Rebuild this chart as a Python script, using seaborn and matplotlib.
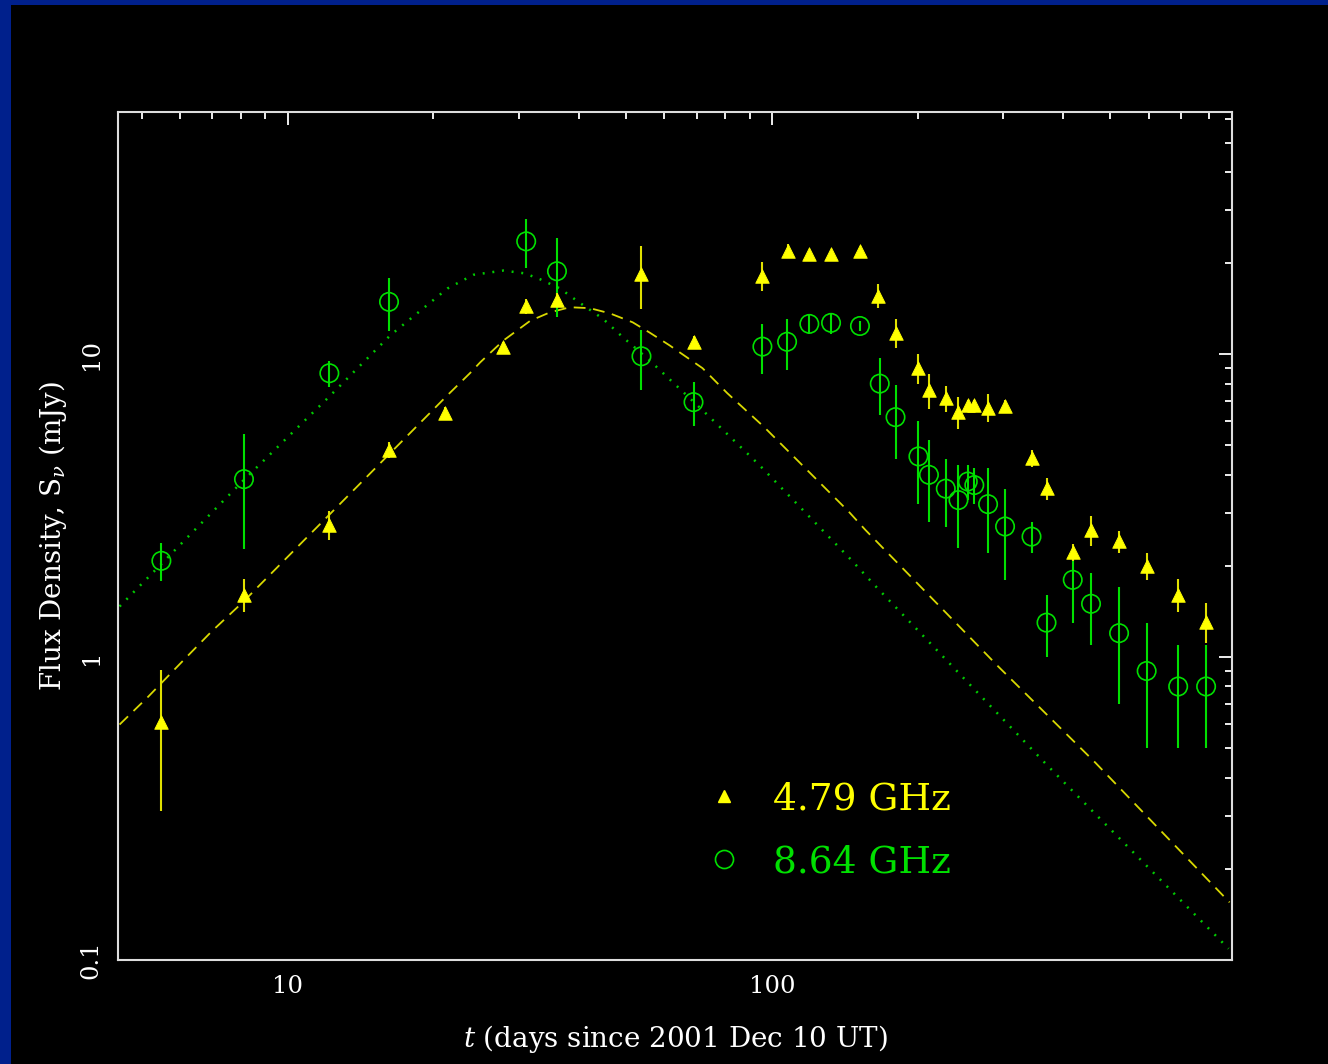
import matplotlib
matplotlib.use("Agg")
import matplotlib.pyplot as plt
import seaborn as sns
from matplotlib.patches import Rectangle
from matplotlib.lines import Line2D
from matplotlib.ticker import FixedLocator, FixedFormatter, LogLocator, NullFormatter

# 4.79 GHz flux densities (days since 2001 Dec 10 UT, mJy, 1-sigma)
t_479 = [5.49, 8.13, 12.2, 16.2, 21.1, 27.9, 31.1, 36.0, 53.8, 68.9,
         95.5, 108, 119.5, 132.5, 152, 166, 180, 200.7, 211, 228.6,
         242.8, 253.8, 261.8, 279.5, 303, 343.6, 369, 418, 456, 521,
         594, 690, 788]
s_479 = [0.61, 1.61, 2.73, 4.83, 6.40, 10.6, 14.4, 15.1, 18.4, 11.0,
         18.2, 22.0, 21.4, 21.5, 22.0, 15.6, 11.8, 9.0, 7.6, 7.16,
         6.45, 6.79, 6.79, 6.67, 6.74, 4.53, 3.61, 2.22, 2.62, 2.41,
         2.00, 1.61, 1.31]
e_479 = [0.30, 0.20, 0.30, 0.30, 0.30, 0.40, 0.80, 0.80, 4.3, 0.50,
         2.0, 1.2, 0.5, 0.5, 0.5, 1.4, 1.3, 1.0, 1.0, 0.7,
         0.8, 0.3, 0.3, 0.7, 0.3, 0.3, 0.3, 0.15, 0.3, 0.2,
         0.2, 0.2, 0.2]

# 8.64 GHz flux densities
t_864 = [5.49, 8.13, 12.2, 16.2, 31.1, 36.0, 53.8, 68.9, 95.6, 107.5,
         119.5, 132.5, 152, 167, 180, 200.7, 211, 228.6, 242.8, 253.8,
         261.8, 279.5, 303, 343.6, 369, 418, 456, 521, 594, 690, 788]
s_864 = [2.08, 3.87, 8.66, 14.9, 23.6, 18.8, 9.85, 6.95, 10.6, 11.0,
         12.6, 12.7, 12.4, 8.0, 6.2, 4.6, 4.0, 3.6, 3.3, 3.8,
         3.7, 3.2, 2.7, 2.5, 1.3, 1.8, 1.5, 1.2, 0.9, 0.8, 0.8]
e_864 = [0.30, 1.6, 0.85, 3.0, 4.3, 5.5, 2.2, 1.15, 2.0, 2.1,
         0.9, 1.0, 0.5, 1.7, 1.7, 1.4, 1.2, 0.9, 1.0, 0.5,
         0.5, 1.0, 0.9, 0.3, 0.3, 0.5, 0.4, 0.5, 0.4, 0.3, 0.3]

# Model light curves
model_t_479 = [4.50, 5.16, 6.03, 6.95, 8.09, 21.4, 23.8, 25.0, 27.9, 31.7,
               34.8, 38.3, 42.1, 46.3, 51.6, 55.9, 61.5, 71.9, 80.9, 96.4,
               144.2, 156, 293.6, 465, 881]
model_s_479 = [0.599, 0.741, 0.959, 1.21, 1.52, 7.33, 8.66, 9.41, 11.1, 12.9,
               13.75, 14.3, 14.2, 13.65, 12.75, 11.8, 10.7, 9.0, 7.44, 5.75,
               3.02, 2.63, 0.930, 0.449, 0.155]
model_t_864 = [4.50, 8.13, 12.1, 16.3, 21.4, 24.2, 27.9, 30.9, 33.2, 36.5,
               40.1, 44.8, 49.2, 55.9, 62.4, 71.9, 94.2, 145.6, 164, 372, 877]
model_s_864 = [1.47, 3.85, 7.16, 11.55, 16.5, 18.3, 18.9, 18.5, 17.7, 16.5,
               14.8, 13.1, 11.4, 9.55, 8.09, 6.54, 4.31, 2.10, 1.71, 0.436, 0.109]

band_labels = ["4.79 GHz", "8.64 GHz"]
x_ticks = [10, 100]
x_tick_labels = ["10", "100"]
y_ticks = [0.1, 1, 10]
y_tick_labels = ["0.1", "1", "10"]
x_range = (10 ** 0.65, 10 ** 2.95)
y_range = (0.1, 10 ** 1.8)

YELLOW = "#FFFF00"
YELLOW_BAR = "#E0E000"
YELLOW_LINE = "#D8D800"
GREEN = "#00E000"
GREEN_LINE = "#00CC00"
BLUE = "#00208C"

sns.set_theme(style="dark")
plt.rcParams.update({
    "font.family": ["DejaVu Serif"],
    "mathtext.fontset": "dejavuserif",
    "lines.scale_dashes": False,
    "axes.facecolor": "black",
    "figure.facecolor": "black",
    "savefig.facecolor": "black",
    "text.color": "white",
    "axes.labelcolor": "white",
})

W, H = 1328, 1064
fig = plt.figure(figsize=(W / 100, H / 100), dpi=100)
ax = fig.add_axes([118 / W, 1 - 960 / H, 1114 / W, 848 / H])
ax.set_facecolor("black")
ax.grid(False)

# Blue frame strips along the top and left edges
fig.add_artist(Rectangle((0, 1 - 5 / H), 1, 5 / H, transform=fig.transFigure,
                         facecolor=BLUE, edgecolor="none"))
fig.add_artist(Rectangle((0, 0), 11 / W, 1, transform=fig.transFigure,
                         facecolor=BLUE, edgecolor="none"))

ax.set_xscale("log")
ax.set_yscale("log")

# Model curves
sns.lineplot(x=model_t_864, y=model_s_864, ax=ax, color=GREEN_LINE,
             linewidth=1.8, linestyle=(0, (1.4, 5.6)))
sns.lineplot(x=model_t_479, y=model_s_479, ax=ax, color=YELLOW_LINE,
             linewidth=1.3, linestyle=(0, (8.5, 5.5)))

# Error bars
ax.errorbar(t_864, s_864, yerr=e_864, fmt="none", ecolor=GREEN,
            elinewidth=1.5, capsize=0, zorder=3)
ax.errorbar(t_479, s_479, yerr=e_479, fmt="none", ecolor=YELLOW_BAR,
            elinewidth=1.5, capsize=0, zorder=3)

# Measurements
sns.scatterplot(x=t_864, y=s_864, ax=ax, marker="o", s=175,
                facecolor="none", edgecolor=GREEN, linewidth=1.2, zorder=4)
sns.scatterplot(x=t_479, y=s_479, ax=ax, marker="^", s=95,
                color=YELLOW, edgecolor=YELLOW, linewidth=0.6, zorder=5)

ax.set_xlim(*x_range)
ax.set_ylim(*y_range)

ax.xaxis.set_major_locator(FixedLocator(x_ticks))
ax.xaxis.set_major_formatter(FixedFormatter(x_tick_labels))
ax.yaxis.set_major_locator(FixedLocator(y_ticks))
ax.yaxis.set_major_formatter(FixedFormatter(y_tick_labels))
for axis in (ax.xaxis, ax.yaxis):
    axis.set_minor_locator(LogLocator(base=10, subs=range(2, 10)))
    axis.set_minor_formatter(NullFormatter())

ax.tick_params(which="both", direction="in", top=True, right=True,
               colors="white", width=1.3, labelsize=17.5, pad=11)
ax.tick_params(which="major", length=9.5)
ax.tick_params(which="minor", length=5)
for lab in ax.get_yticklabels():
    lab.set_rotation(90)
    lab.set_va("center")

for sp in ax.spines.values():
    sp.set_color("#DDDDDD")
    sp.set_linewidth(1.5)
    sp.set_visible(True)

ax.set_xlabel(r"$t$ (days since 2001 Dec 10 UT)", fontsize=20,
              color="white", labelpad=18)
ax.set_ylabel(r"Flux Density, S$_{\nu}$ (mJy)", fontsize=20,
              color="white", labelpad=8)

handles = [
    Line2D([], [], linestyle="none", marker="^", markersize=9,
           markerfacecolor=YELLOW, markeredgecolor=YELLOW),
    Line2D([], [], linestyle="none", marker="o", markersize=13,
           markerfacecolor="none", markeredgecolor=GREEN, markeredgewidth=1.2),
]
leg = ax.legend(handles, band_labels, loc="center left",
                bbox_to_anchor=(0.527, 0.152), frameon=False, fontsize=27,
                handlelength=1.0, handletextpad=0.8, labelspacing=0.72,
                borderpad=0, borderaxespad=0)
for txt, col in zip(leg.get_texts(), [YELLOW, GREEN]):
    txt.set_color(col)

fig.savefig("out.png", dpi=100)
